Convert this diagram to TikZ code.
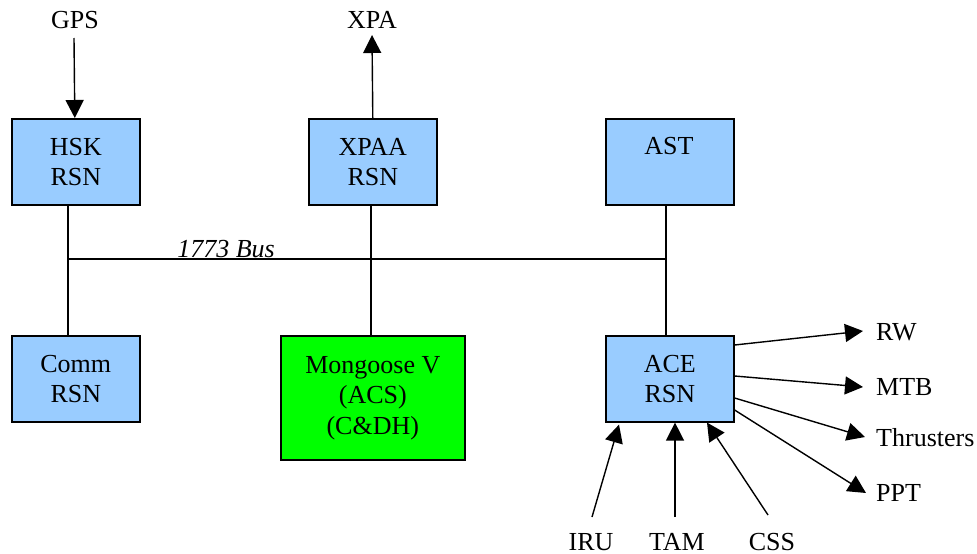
\documentclass[tikz,border=0pt]{standalone}
\usepackage{fontspec}
\setmainfont{Liberation Serif}
\newfontfamily\tnr{Liberation Serif}
\usetikzlibrary{arrows.meta,calc}
\definecolor{boxblue}{RGB}{153,204,255}
\definecolor{boxgreen}{RGB}{0,255,0}
\begin{document}
\begin{tikzpicture}[x=1pt,y=-1pt,
  font=\tnr\fontsize{26}{30.5}\selectfont,
  blk/.style={draw=black,line width=1.6pt,fill=boxblue,minimum width=128pt,minimum height=86pt,inner sep=0pt,align=center,anchor=north west},
  gblk/.style={blk,fill=boxgreen,minimum width=184pt,minimum height=124pt},
  lbl/.style={inner sep=0pt,anchor=base},
  wire/.style={line width=1.4pt},
  arr/.style={line width=1.4pt,-{Triangle[length=18pt,width=18pt]}}]
\useasboundingbox (0,0) rectangle (977,554);
% boxes
\node[blk] (hsk) at (11,118) {HSK\\RSN};
\node[blk] (xpaa) at (308,118) {XPAA\\RSN};
\node[blk] (ast) at (605,118) {};
\node[lbl] (asttxt) at (669,154) {AST};
\node[blk] (comm) at (11,335) {Comm\\RSN};
\node[gblk] (mong) at (280,335) {Mongoose V\\(ACS)\\(C\&DH)};
\node[blk] (ace) at (605,335) {ACE\\RSN};
% labels
\node[lbl] (gps) at (75,28) {GPS};
\node[lbl] (xpa) at (372,28) {XPA};
\node[lbl,anchor=base west] (rw) at (876,340) {RW};
\node[lbl,anchor=base west] (mtb) at (876,395) {MTB};
\node[lbl,anchor=base west] (thr) at (876,446) {Thrusters};
\node[lbl,anchor=base west] (ppt) at (876,501) {PPT};
\node[lbl] (iru) at (591,550) {IRU};
\node[lbl] (tam) at (677,550) {TAM};
\node[lbl] (css) at (772,550) {CSS};
\node[lbl] (buslbl) at (226,257) {\itshape 1773 Bus};
% free ends
\coordinate (gpsE) at (74,38);
\coordinate (xpaE) at (372,35);
\coordinate (rwE) at (863,331);
\coordinate (mtbE) at (863,387);
\coordinate (thrE) at (865,437);
\coordinate (pptE) at (866,493);
\coordinate (iruE) at (592,517);
\coordinate (tamE) at (675,517);
\coordinate (cssE) at (768,515);
\coordinate (busy) at (0,259);
% wires
\draw[wire] ([xshift=-8pt]hsk.south) -- ([xshift=-8pt]comm.north);
\draw[wire] ([xshift=-2pt]xpaa.south) -- ([xshift=-2pt]mong.north);
\draw[wire] ([xshift=-4pt]ast.south) -- ([xshift=-4pt]ace.north);
\draw[wire] ([xshift=-8pt]hsk.south |- busy) -- ([xshift=-4pt]ast.south |- busy);
% arrows
\draw[arr] (gpsE) -- ([xshift=-1pt]hsk.north);
\draw[arr] (xpaa.north) -- (xpaE);
\draw[arr] ([yshift=-10pt]ace.north east) -- (rwE);
\draw[arr] ([yshift=-41pt]ace.north east) -- (mtbE);
\draw[arr] ([yshift=-63pt]ace.north east) -- (thrE);
\draw[arr] ([yshift=-75pt]ace.north east) -- (pptE);
\draw[arr] (iruE) -- ([xshift=14pt,yshift=-2pt]ace.south west);
\draw[arr] (tamE) -- ([xshift=70pt]ace.south west);
\draw[arr] (cssE) -- ([xshift=102pt]ace.south west);
\end{tikzpicture}
\end{document}
